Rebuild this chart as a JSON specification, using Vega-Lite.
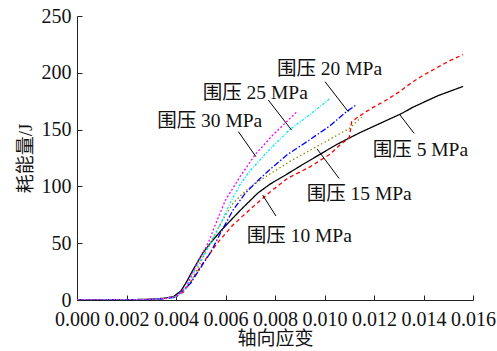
{
  "$schema": "https://vega.github.io/schema/vega-lite/v6.json",
  "width": 396,
  "height": 284,
  "autosize": {"type": "none"},
  "padding": {"left": 77, "top": 16, "right": 24, "bottom": 51},
  "background": "white",
  "config": {
    "view": {"stroke": null},
    "font": "Liberation Serif, Noto Sans CJK SC",
    "axis": {
      "grid": false,
      "domainColor": "#222",
      "tickColor": "#222",
      "tickSize": -5,
      "labelFont": "Liberation Serif, Noto Sans CJK SC",
      "titleFont": "Liberation Serif, Noto Sans CJK SC",
      "labelFontSize": 20,
      "titleFontSize": 19,
      "titleFontWeight": "normal",
      "labelColor": "#111",
      "titleColor": "#111"
    }
  },
  "datasets": {
    "curves": [
      {"s": "5", "x": 0, "y": 0}, {"s": "5", "x": 0.002, "y": 0.2}, {"s": "5", "x": 0.003, "y": 0.7}, {"s": "5", "x": 0.0035, "y": 1.5}, {"s": "5", "x": 0.0039, "y": 3}, {"s": "5", "x": 0.0042, "y": 8}, {"s": "5", "x": 0.0044, "y": 15}, {"s": "5", "x": 0.0047, "y": 27}, {"s": "5", "x": 0.0051, "y": 42}, {"s": "5", "x": 0.0055, "y": 53}, {"s": "5", "x": 0.0059, "y": 63}, {"s": "5", "x": 0.0066, "y": 79}, {"s": "5", "x": 0.0073, "y": 94}, {"s": "5", "x": 0.0078, "y": 102}, {"s": "5", "x": 0.0085, "y": 111}, {"s": "5", "x": 0.0091, "y": 119}, {"s": "5", "x": 0.0098, "y": 128}, {"s": "5", "x": 0.0105, "y": 137}, {"s": "5", "x": 0.0114, "y": 147}, {"s": "5", "x": 0.012, "y": 153}, {"s": "5", "x": 0.0125, "y": 158}, {"s": "5", "x": 0.0131, "y": 164}, {"s": "5", "x": 0.0136, "y": 170}, {"s": "5", "x": 0.0141, "y": 175}, {"s": "5", "x": 0.0146, "y": 180}, {"s": "5", "x": 0.0151, "y": 184}, {"s": "5", "x": 0.0156, "y": 188},
      {"s": "10", "x": 0, "y": 0}, {"s": "10", "x": 0.002, "y": 0.1}, {"s": "10", "x": 0.003, "y": 0.5}, {"s": "10", "x": 0.0035, "y": 1.2}, {"s": "10", "x": 0.004, "y": 3}, {"s": "10", "x": 0.0043, "y": 7}, {"s": "10", "x": 0.0046, "y": 16}, {"s": "10", "x": 0.0051, "y": 33}, {"s": "10", "x": 0.0057, "y": 51}, {"s": "10", "x": 0.0063, "y": 66}, {"s": "10", "x": 0.007, "y": 80}, {"s": "10", "x": 0.0078, "y": 95}, {"s": "10", "x": 0.0085, "y": 107}, {"s": "10", "x": 0.0094, "y": 117}, {"s": "10", "x": 0.0102, "y": 128}, {"s": "10", "x": 0.0106, "y": 136}, {"s": "10", "x": 0.011, "y": 143}, {"s": "10", "x": 0.01105, "y": 150}, {"s": "10", "x": 0.0111, "y": 157}, {"s": "10", "x": 0.01135, "y": 161}, {"s": "10", "x": 0.0117, "y": 166}, {"s": "10", "x": 0.012, "y": 170}, {"s": "10", "x": 0.0125, "y": 176}, {"s": "10", "x": 0.013, "y": 183}, {"s": "10", "x": 0.0135, "y": 191}, {"s": "10", "x": 0.014, "y": 198}, {"s": "10", "x": 0.0145, "y": 204}, {"s": "10", "x": 0.015, "y": 210}, {"s": "10", "x": 0.0156, "y": 216},
      {"s": "15", "x": 0, "y": 0}, {"s": "15", "x": 0.002, "y": 0.1}, {"s": "15", "x": 0.003, "y": 0.5}, {"s": "15", "x": 0.0035, "y": 1.2}, {"s": "15", "x": 0.004, "y": 3}, {"s": "15", "x": 0.0044, "y": 10}, {"s": "15", "x": 0.0047, "y": 20}, {"s": "15", "x": 0.0051, "y": 38}, {"s": "15", "x": 0.0055, "y": 55}, {"s": "15", "x": 0.0059, "y": 71}, {"s": "15", "x": 0.0063, "y": 85}, {"s": "15", "x": 0.0068, "y": 96}, {"s": "15", "x": 0.0073, "y": 104}, {"s": "15", "x": 0.0078, "y": 111}, {"s": "15", "x": 0.0086, "y": 122}, {"s": "15", "x": 0.0096, "y": 134}, {"s": "15", "x": 0.0101, "y": 140}, {"s": "15", "x": 0.011, "y": 151}, {"s": "15", "x": 0.0115, "y": 161},
      {"s": "20", "x": 0, "y": 0}, {"s": "20", "x": 0.002, "y": 0.1}, {"s": "20", "x": 0.003, "y": 0.5}, {"s": "20", "x": 0.0035, "y": 1}, {"s": "20", "x": 0.004, "y": 2.5}, {"s": "20", "x": 0.0046, "y": 15}, {"s": "20", "x": 0.0051, "y": 32}, {"s": "20", "x": 0.0054, "y": 42}, {"s": "20", "x": 0.0058, "y": 59}, {"s": "20", "x": 0.0063, "y": 79}, {"s": "20", "x": 0.0068, "y": 94}, {"s": "20", "x": 0.0073, "y": 105}, {"s": "20", "x": 0.0078, "y": 115}, {"s": "20", "x": 0.0085, "y": 128}, {"s": "20", "x": 0.0094, "y": 141}, {"s": "20", "x": 0.0102, "y": 153}, {"s": "20", "x": 0.0109, "y": 166}, {"s": "20", "x": 0.0113, "y": 172},
      {"s": "25", "x": 0, "y": 0}, {"s": "25", "x": 0.002, "y": 0.1}, {"s": "25", "x": 0.003, "y": 0.5}, {"s": "25", "x": 0.0035, "y": 1.2}, {"s": "25", "x": 0.004, "y": 3}, {"s": "25", "x": 0.0044, "y": 10}, {"s": "25", "x": 0.0048, "y": 28}, {"s": "25", "x": 0.0054, "y": 50}, {"s": "25", "x": 0.0058, "y": 67}, {"s": "25", "x": 0.0062, "y": 86}, {"s": "25", "x": 0.0066, "y": 102}, {"s": "25", "x": 0.007, "y": 114}, {"s": "25", "x": 0.0078, "y": 133}, {"s": "25", "x": 0.0086, "y": 150}, {"s": "25", "x": 0.0094, "y": 163}, {"s": "25", "x": 0.0102, "y": 177},
      {"s": "30", "x": 0, "y": 0}, {"s": "30", "x": 0.002, "y": 0.1}, {"s": "30", "x": 0.003, "y": 0.5}, {"s": "30", "x": 0.0035, "y": 1.2}, {"s": "30", "x": 0.004, "y": 3}, {"s": "30", "x": 0.0044, "y": 11}, {"s": "30", "x": 0.0048, "y": 30}, {"s": "30", "x": 0.0053, "y": 50}, {"s": "30", "x": 0.0056, "y": 67}, {"s": "30", "x": 0.006, "y": 88}, {"s": "30", "x": 0.0066, "y": 109}, {"s": "30", "x": 0.0072, "y": 128}, {"s": "30", "x": 0.0079, "y": 145}, {"s": "30", "x": 0.0089, "y": 166}
    ],
    "leaders": [
      {"x": 0.01002, "y": 192.2, "x2": 0.01096, "y2": 165.8},
      {"x": 0.00773, "y": 176, "x2": 0.00867, "y2": 149.6},
      {"x": 0.00652, "y": 148.2, "x2": 0.00723, "y2": 126.1},
      {"x": 0.01305, "y": 162.9, "x2": 0.01362, "y2": 146.7},
      {"x": 0.0097, "y": 133, "x2": 0.01059, "y2": 107},
      {"x": 0.0075, "y": 92.4, "x2": 0.00804, "y2": 73.9}
    ],
    "labels": [
      {"x": 0.00808, "y": 203.3, "t": "围压 20 MPa"},
      {"x": 0.00508, "y": 181.8, "t": "围压 25 MPa"},
      {"x": 0.00324, "y": 157.6, "t": "围压 30 MPa"},
      {"x": 0.01195, "y": 132, "t": "围压 5 MPa"},
      {"x": 0.00928, "y": 93.3, "t": "围压 15 MPa"},
      {"x": 0.00686, "y": 56.3, "t": "围压 10 MPa"}
    ]
  },
  "layer": [
    {
      "data": {"name": "curves"},
      "mark": {"type": "line", "strokeWidth": 1.3, "clip": true},
      "encoding": {
        "x": {
          "field": "x", "type": "quantitative",
          "scale": {"domain": [0, 0.016], "nice": false},
          "axis": {"values": [0, 0.002, 0.004, 0.006, 0.008, 0.01, 0.012, 0.014, 0.016], "format": ".3f", "title": "轴向应变", "labelPadding": 14, "titlePadding": 0, "labelFlush": false}
        },
        "y": {
          "field": "y", "type": "quantitative",
          "scale": {"domain": [0, 250], "nice": false},
          "axis": {"values": [0, 50, 100, 150, 200, 250], "title": "耗能量/J", "labelPadding": 11, "titlePadding": 6}
        },
        "color": {
          "field": "s", "type": "nominal",
          "scale": {"domain": ["5", "10", "15", "20", "25", "30"], "range": ["#000000", "#ff0000", "#8c8c00", "#0000ff", "#00e8f0", "#ff00ff"]},
          "legend": null
        },
        "strokeDash": {
          "field": "s", "type": "nominal",
          "scale": {"domain": ["5", "10", "15", "20", "25", "30"], "range": [[1, 0], [4, 3], [1.5, 2.5], [6, 2, 1.5, 2], [2.5, 1.5, 1, 1.5], [2, 2]]},
          "legend": null
        }
      }
    },
    {
      "data": {"name": "leaders"},
      "mark": {"type": "rule", "color": "#000", "strokeWidth": 1},
      "encoding": {
        "x": {"field": "x", "type": "quantitative"},
        "y": {"field": "y", "type": "quantitative"},
        "x2": {"field": "x2"},
        "y2": {"field": "y2"}
      }
    },
    {
      "data": {"name": "labels"},
      "mark": {"type": "text", "align": "left", "baseline": "middle", "fontSize": 19.5, "font": "Liberation Serif, Noto Sans CJK SC", "color": "#111"},
      "encoding": {
        "x": {"field": "x", "type": "quantitative"},
        "y": {"field": "y", "type": "quantitative"},
        "text": {"field": "t"}
      }
    }
  ]
}
